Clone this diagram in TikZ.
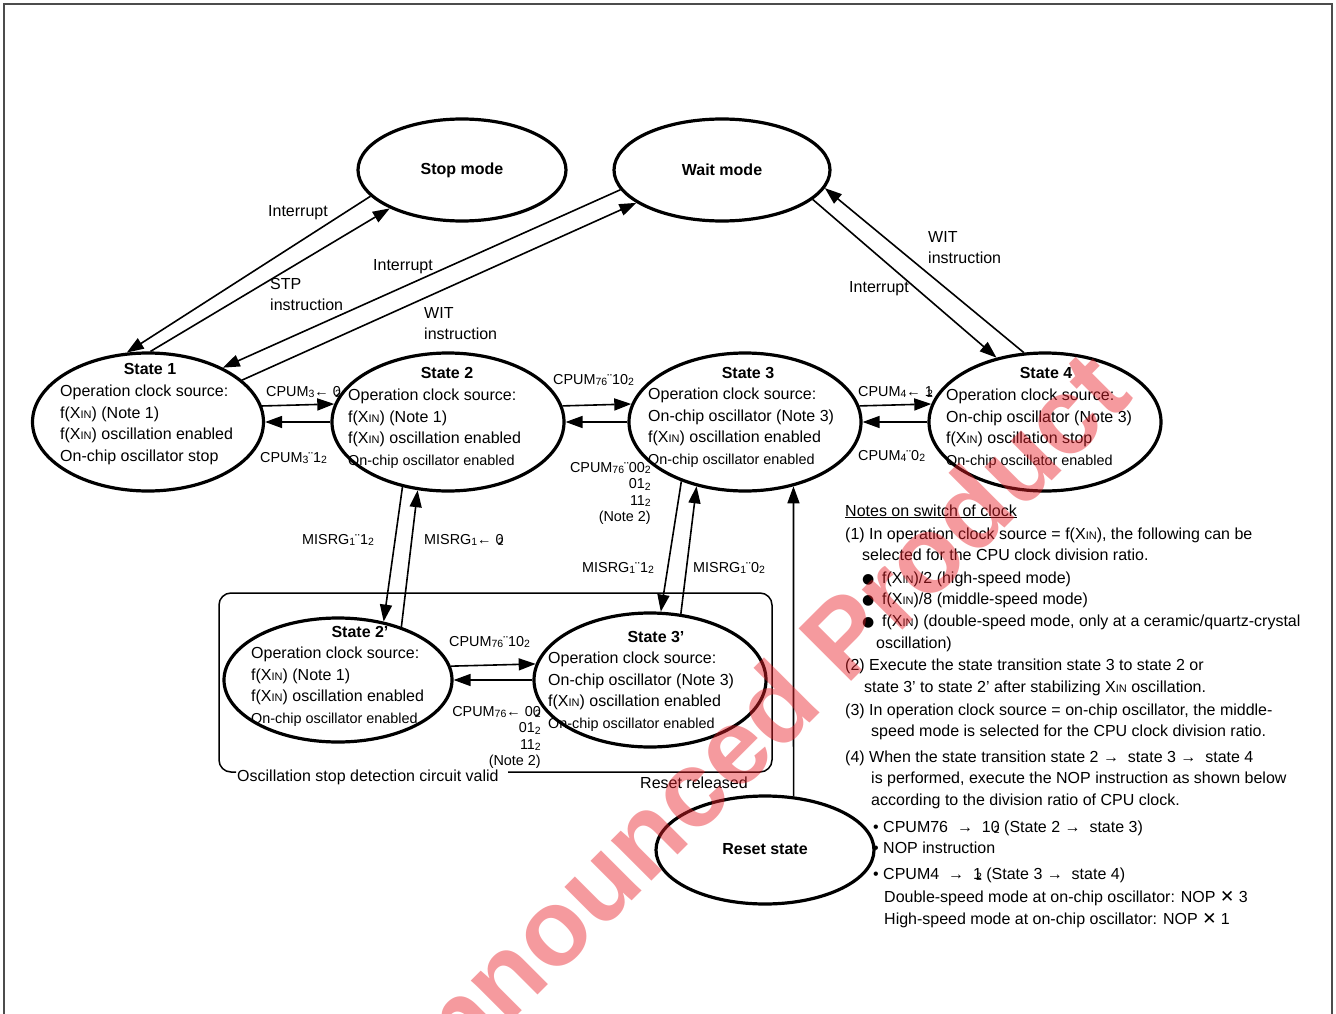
\documentclass[tikz,border=0pt]{standalone}
\usepackage{fontspec}
\setmainfont{Liberation Sans}
\newfontfamily\dejavu{DejaVu Sans}
\usetikzlibrary{arrows.meta,shapes.geometric}
\newcommand{\xin}{X{\fontsize{11}{11}\selectfont IN}}
\newcommand{\sbs}[1]{\raisebox{-1.5pt}{\fontsize{10.5}{10.5}\selectfont #1}}
\newcommand{\ovl}[2]{#1\llap{\sbs{#2}}}
\newcommand{\bul}{\makebox[20pt][l]{\dejavu\fontsize{14}{14}\selectfont ●}}
\newcommand{\tms}{{\dejavu\fontsize{17}{17}\selectfont ✕}}
\definecolor{wm}{RGB}{232,32,40}
\begin{document}
\begin{tikzpicture}[x=1pt,y=-1pt,
  ell/.style={draw, ellipse, line width=3.2pt, inner sep=0pt},
  arr/.style={line width=1.6pt, -{Triangle[length=17pt,width=12pt]}},
  txt/.style={font=\fontsize{16}{21.5}\selectfont, inner sep=0pt, align=left},
  lbl/.style={font=\fontsize{14.4}{16.5}\selectfont, inner sep=0pt},
  ttl/.style={font=\fontsize{16}{16}\selectfont\bfseries, inner sep=0pt},
  nt/.style={font=\fontsize{16}{16}\selectfont, inner sep=0pt, anchor=base west},
  wmk/.style={rotate=45, anchor=base east, inner sep=0pt,
     font=\fontsize{108}{108}\selectfont\bfseries, text=wm, text opacity=0.45}]
\useasboundingbox (0,0) rectangle (1336,1014);
% frame
\draw[line width=1.5pt, black!70] (4,1020) -- (4,4) -- (1332,4) -- (1332,1020);

% ellipses
\node[ell, minimum width=208pt, minimum height=102pt] (stop) at (462,170) {};
\node[ell, minimum width=216pt, minimum height=102pt] (wait) at (722,170) {};
\node[ell, minimum width=231pt, minimum height=138pt] (s1) at (148,422) {};
\node[ell, minimum width=232pt, minimum height=138pt] (s2) at (448,422) {};
\node[ell, minimum width=232pt, minimum height=138pt] (s3) at (745,422) {};
\node[ell, minimum width=232pt, minimum height=138pt] (s4) at (1045,422) {};
\node[ell, minimum width=228pt, minimum height=124pt] (s2p) at (338,680) {};
\node[ell, minimum width=232pt, minimum height=134pt] (s3p) at (650,680) {};
\node[ell, minimum width=218pt, minimum height=108pt] (reset) at (765,850) {};

% titles
\node[ttl] (stopt) at (462,170) {Stop mode};
\node[ttl] (waitt) at (722,170) {Wait mode};
\node[ttl] (resett) at (765,849) {Reset state};
\node[ttl] (s1t) at (150,369) {State 1};
\node[ttl] (s2t) at (447,373) {State 2};
\node[ttl] (s3t) at (748,373) {State 3};
\node[ttl] (s4t) at (1046,373) {State 4};
\node[ttl] (s2pt) at (360,632) {State 2’};
\node[ttl] (s3pt) at (656,637) {State 3’};

% bodies
\node[txt, anchor=north west] (s1b) at (60,385) {Operation clock source:\\f(\xin) (Note 1)\\f(\xin) oscillation enabled\\On-chip oscillator stop};
\node[txt, anchor=north west] (s2b) at (348,389) {Operation clock source:\\f(\xin) (Note 1)\\f(\xin) oscillation enabled\\{\fontsize{14.4}{21.5}\selectfont On-chip oscillator enabled}};
\node[txt, anchor=north west] (s3b) at (648,388) {Operation clock source:\\On-chip oscillator (Note 3)\\f(\xin) oscillation enabled\\{\fontsize{14.4}{21.5}\selectfont On-chip oscillator enabled}};
\node[txt, anchor=north west] (s4b) at (946,389) {Operation clock source:\\On-chip oscillator (Note 3)\\f(\xin) oscillation stop\\{\fontsize{14.4}{21.5}\selectfont On-chip oscillator enabled}};
\node[txt, anchor=north west] (s2pb) at (251,647) {Operation clock source:\\f(\xin) (Note 1)\\f(\xin) oscillation enabled\\{\fontsize{14.4}{21.5}\selectfont On-chip oscillator enabled}};
\node[txt, anchor=north west] (s3pb) at (548,652) {Operation clock source:\\On-chip oscillator (Note 3)\\f(\xin) oscillation enabled\\{\fontsize{14.4}{21.5}\selectfont On-chip oscillator enabled}};

% oscillation stop detection box
\node[txt, anchor=west] (osc) at (237,777) {Oscillation stop detection circuit valid};
\draw[line width=1.5pt, rounded corners=12pt] (236,772) -- (219,772) -- (219,593) -- (772,593) -- (772,772) -- (508,772);

% connectors
\draw[arr] (s1.88) -- (stop.208);
\draw[arr] (stop.196) -- (s1.107);
\draw[arr] (wait.191) -- (s1.36.6);
\draw[arr] (s1.24.6) -- (wait.201);
\draw[arr] (wait.342) -- (s4.127);
\draw[arr] (s4.107.8) -- (wait.350);
\draw[arr] (s1.8.6) -- (s2.171.4);
\draw[arr] (s2.west) -- (s1.east);
\draw[arr] (s2.8.6) -- (s3.171.4);
\draw[arr] (s3.west) -- (s2.east);
\draw[arr] (s3.8.6) -- (s4.171.4);
\draw[arr] (s4.west) -- (s3.east);
\draw[arr] (s2p.7.65) -- (s3p.172.5);
\draw[arr] (s3p.west) -- (s2p.east);
\draw[arr] (s2.235.1) -- (s2p.52.2);
\draw[arr] (s2p.40.5) -- (s2.246.1);
\draw[arr] (s3.223.1) -- (s3p.81.6);
\draw[arr] (s3p.65.5) -- (s3.233.7);
\draw[arr] (reset.62.2) -- (s3.307);

% connector labels
\node[txt, anchor=west] (li1) at (268,213) {Interrupt};
\node[txt, anchor=north west] (lstp) at (270,278) {STP\\instruction};
\node[txt, anchor=west] (li2) at (373,267) {Interrupt};
\node[txt, anchor=north west] (lwit1) at (424,307) {WIT\\instruction};
\node[txt, anchor=north west] (lwit2) at (928,231) {WIT\\instruction};
\node[txt, anchor=west] (li3) at (849,289) {Interrupt};
\node[lbl, anchor=west] (l12a) at (266,392) {CPUM\sbs{3}← \ovl{0}{2}};
\node[lbl, anchor=west] (l12b) at (260,458) {CPUM\sbs{3}¨1\sbs{2}};
\node[lbl, anchor=west] (l23a) at (553,380) {CPUM\sbs{76}¨10\sbs{2}};
\node[lbl, anchor=north east, align=right] (l23b) at (651,462) {CPUM\sbs{76}¨00\sbs{2}\\01\sbs{2}\\11\sbs{2}\\(Note 2)};
\node[lbl, anchor=west] (l34a) at (858,392) {CPUM\sbs{4}← \ovl{1}{2}};
\node[lbl, anchor=west] (l34b) at (858,456) {CPUM\sbs{4}¨0\sbs{2}};
\node[lbl, anchor=west] (m1) at (302,540) {MISRG\sbs{1}¨1\sbs{2}};
\node[lbl, anchor=west] (m2) at (424,540) {MISRG\sbs{1}← \ovl{0}{2}};
\node[lbl, anchor=west] (m3) at (582,568) {MISRG\sbs{1}¨1\sbs{2}};
\node[lbl, anchor=west] (m4) at (693,568) {MISRG\sbs{1}¨0\sbs{2}};
\node[lbl, anchor=west] (l23pa) at (449,642) {CPUM\sbs{76}¨10\sbs{2}};
\node[lbl, anchor=north east, align=right] (l23pb) at (541,706) {CPUM\sbs{76}← 0\ovl{0}{2}\\01\sbs{2}\\11\sbs{2}\\(Note 2)};
\node[txt, anchor=west] (rr) at (640,783) {Reset released};

% notes
\node[nt] (n0) at (845,516) {\underline{Notes on switch of clock}};
\node[nt] (n1) at (845,539) {(1) In operation clock source = f(\xin), the following can be};
\node[nt] (n2) at (862,560) {selected for the CPU clock division ratio.};
\node[nt] (n3) at (862,583) {\bul f(\xin)/2 (high-speed mode)};
\node[nt] (n4) at (862,604) {\bul f(\xin)/8 (middle-speed mode)};
\node[nt] (n5) at (862,626) {\bul f(\xin) (double-speed mode, only at a ceramic/quartz-crystal};
\node[nt] (n6) at (876,648) {oscillation)};
\node[nt] (n7) at (845,670) {(2) Execute the state transition state 3 to state 2 or};
\node[nt] (n8) at (864,692) {state 3’ to state 2’ after stabilizing \xin{} oscillation.};
\node[nt] (n9) at (845,715) {(3) In operation clock source = on-chip oscillator, the middle-};
\node[nt] (n10) at (871,736) {speed mode is selected for the CPU clock division ratio.};
\node[nt] (n11) at (845,762) {(4) When the state transition state 2 → \ state 3 → \ state 4};
\node[nt] (n12) at (871,783) {is performed, execute the NOP instruction as shown below};
\node[nt] (n13) at (871,805) {according to the division ratio of CPU clock.};
\node[nt] (n14) at (873,832) {• CPUM76 \ → \ 1\ovl{0}{2} (State 2 → \ state 3)};
\node[nt] (n15) at (873,853) {• NOP instruction};
\node[nt] (n16) at (873,879) {• CPUM4 \ → \ \ovl{1}{2} (State 3 → \ state 4)};
\node[nt] (n17) at (884,902) {Double-speed mode at on-chip oscillator: NOP \tms\ 3};
\node[nt] (n18) at (884,924) {High-speed mode at on-chip oscillator: NOP \tms\ 1};

% watermark
\begin{scope}
\clip (0,0) rectangle (1336,1014);
\node[wmk] (wmark) at (1135,398) {Unannounced Product};
\end{scope}
\end{tikzpicture}
\end{document}
